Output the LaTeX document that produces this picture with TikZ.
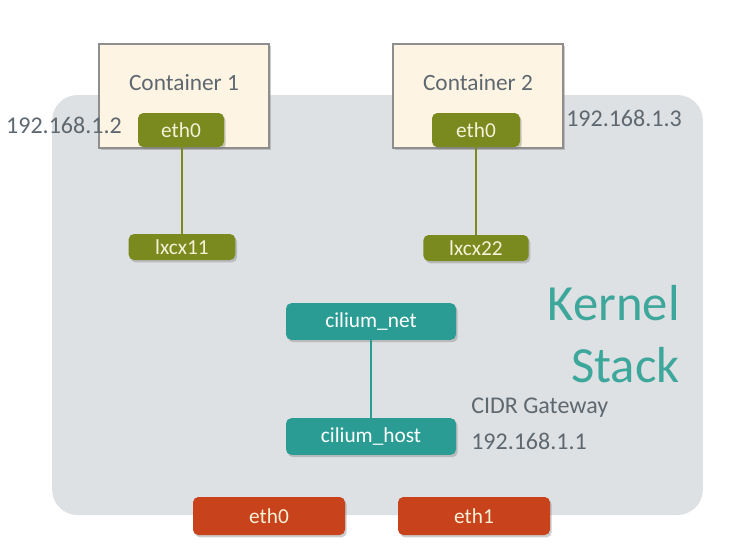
\documentclass[tikz,border=0pt]{standalone}
\usepackage{fontspec}
\setmainfont{Carlito}
\usepackage{xcolor}
\usetikzlibrary{positioning, shadows}

\definecolor{stackgrey}{HTML}{DEE1E3}
\definecolor{cream}{HTML}{FDF4E3}
\definecolor{frame}{HTML}{8E8E8E}
\definecolor{olive}{HTML}{7A8A1F}
\definecolor{olivetext}{HTML}{F4F1D6}
\definecolor{teal}{HTML}{2B9C93}
\definecolor{tealtext}{HTML}{3EA79C}
\definecolor{rust}{HTML}{C8421C}
\definecolor{labelgrey}{HTML}{5E6870}

\begin{document}
\begin{tikzpicture}[
    x=0.75pt, y=-0.75pt,
    shade/.style={drop shadow={opacity=0.4, shadow xshift=1.3pt, shadow yshift=-1.8pt}},
    stackbox/.style={fill=stackgrey, rounded corners=19pt, minimum width=488pt, minimum height=315pt},
    ctr/.style={draw=frame, fill=cream, line width=0.8pt, minimum width=127.5pt, minimum height=78pt, shade},
    ifc/.style={rounded corners=4pt, inner sep=0pt, font=\fontsize{16}{19}\selectfont, shade},
    veth/.style={ifc, fill=olive, text=olivetext},
    cil/.style={ifc, fill=teal, text=white, minimum width=127.5pt, minimum height=27.5pt},
    phys/.style={ifc, fill=rust, text=olivetext, minimum width=114pt, minimum height=28.5pt},
    ip/.style={font=\fontsize{18}{22}\selectfont, text=labelgrey, inner sep=0pt},
    wire/.style={line width=2.2pt},
]
% page and kernel area
\fill[white] (0,0) rectangle (733,550);
\node[stackbox] (stack) at (377.5,305) {};

% containers
\node[ctr, label={[yshift=9.75pt, text=labelgrey, font=\fontsize{17.5}{20}\selectfont]center:Container 1}] (cont1) at (184,96) {};
\node[ctr, label={[yshift=9.75pt, text=labelgrey, font=\fontsize{17.5}{20}\selectfont]center:Container 2}] (cont2) at (478,96) {};

% veth pairs
\node[veth, minimum width=64.5pt, minimum height=25.5pt] (eth0a) at (181,130) {eth0};
\node[veth, minimum width=80pt, minimum height=19.5pt] (lxcx11) at (182,247) {lxcx11};
\node[veth, minimum width=66pt, minimum height=25.5pt] (eth0b) at (476,130) {eth0};
\node[veth, minimum width=79pt, minimum height=19.5pt] (lxcx22) at (476,248) {lxcx22};

\draw[wire, olive] (eth0a.south -| lxcx11.north) -- (lxcx11.north);
\draw[wire, olive] (eth0b.south) -- (lxcx22.north);

% cilium devices
\node[cil] (cnet) at (371,321.5) {cilium\_net};
\node[cil] (chost) at (371,436.5) {cilium\_host};
\draw[wire, teal] (cnet) -- (chost);

% host nics
\node[phys] (nic0) at (269,516) {eth0};
\node[phys] (nic1) at (474,516) {eth1};

% labels
\node[ip, anchor=east] (ip2) at (122,125) {192.168.1.2};
\node[ip, anchor=west] (ip3) at (566,118) {192.168.1.3};
\node[ip, anchor=west, align=left, font=\fontsize{18}{27}\selectfont] (gw) at (471,424) {CIDR Gateway\\192.168.1.1};
\node[anchor=east, align=right, inner sep=0pt, text=tealtext, font=\fontsize{38}{47}\selectfont] (kstack) at (680,334) {Kernel\\Stack};
\end{tikzpicture}
\end{document}
